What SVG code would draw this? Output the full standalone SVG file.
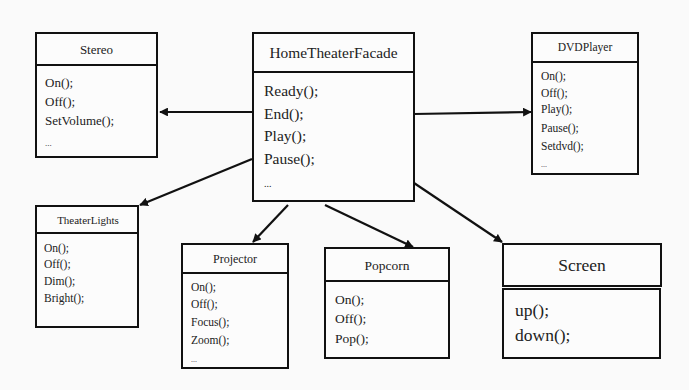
<svg xmlns="http://www.w3.org/2000/svg" width="689" height="390" viewBox="0 0 689 390">
  <style>
    .box { fill: #fcfcfc; stroke: #111; stroke-width: 2; }
    .sep { stroke: #111; stroke-width: 2; }
    .t { font-family: "Liberation Serif", "Times New Roman", serif; fill: #222; }
    .link { stroke: #111; stroke-width: 2.2; fill: none; marker-end: url(#arrow); }
  </style>
  <defs>
    <marker id="arrow" viewBox="0 0 10 10" refX="9" refY="5" markerWidth="4" markerHeight="4" orient="auto" markerUnits="strokeWidth">
      <path d="M0,0 L10,5 L0,10 z" fill="#111"/>
    </marker>
  </defs>
  <rect width="689" height="390" fill="#fafafa"/>

  <g id="connectors">
    <line class="link" x1="253" y1="112" x2="160" y2="112"/>
    <line class="link" x1="414" y1="114" x2="531" y2="112"/>
    <line class="link" x1="252" y1="159" x2="140" y2="205"/>
    <line class="link" x1="288" y1="205" x2="253" y2="242"/>
    <line class="link" x1="325" y1="205" x2="413" y2="247"/>
    <line class="link" x1="414" y1="183" x2="502" y2="242"/>
  </g>

  <g id="stereo">
    <rect class="box" x="36" y="33" width="121" height="124"/>
    <line class="sep" x1="36" y1="65" x2="157" y2="65"/>
    <text class="t" x="96.5" y="53.5" font-size="13" text-anchor="middle">Stereo</text>
    <text class="t" x="45" y="86.5" font-size="13">On();</text>
    <text class="t" x="45" y="106" font-size="13">Off();</text>
    <text class="t" x="45" y="124.5" font-size="13">SetVolume();</text>
    <text class="t" x="45" y="146" font-size="9">...</text>
  </g>

  <g id="facade">
    <rect class="box" x="253" y="33" width="161" height="168"/>
    <line class="sep" x1="253" y1="72" x2="414" y2="72"/>
    <text class="t" x="333.5" y="57.5" font-size="15.4" text-anchor="middle">HomeTheaterFacade</text>
    <text class="t" x="264" y="95.5" font-size="15.5">Ready();</text>
    <text class="t" x="264" y="118.5" font-size="15.5">End();</text>
    <text class="t" x="264" y="141" font-size="15.5">Play();</text>
    <text class="t" x="264" y="163.5" font-size="15.5">Pause();</text>
    <text class="t" x="264" y="187" font-size="10">...</text>
  </g>

  <g id="dvdplayer">
    <rect class="box" x="532" y="33" width="106" height="141"/>
    <line class="sep" x1="532" y1="62" x2="638" y2="62"/>
    <text class="t" x="585" y="51" font-size="11.6" text-anchor="middle">DVDPlayer</text>
    <text class="t" x="541" y="80" font-size="11.5">On();</text>
    <text class="t" x="541" y="97" font-size="11.5">Off();</text>
    <text class="t" x="541" y="113" font-size="11.5">Play();</text>
    <text class="t" x="541" y="132" font-size="11.5">Pause();</text>
    <text class="t" x="541" y="150" font-size="11.5">Setdvd();</text>
    <text class="t" x="541" y="167" font-size="8">...</text>
  </g>

  <g id="theaterlights">
    <rect class="box" x="36" y="206" width="102" height="121"/>
    <line class="sep" x1="36" y1="233" x2="138" y2="233"/>
    <text class="t" x="88" y="224" font-size="11" text-anchor="middle">TheaterLights</text>
    <text class="t" x="44" y="252" font-size="11.5">On();</text>
    <text class="t" x="44" y="268" font-size="11.5">Off();</text>
    <text class="t" x="44" y="285" font-size="11.5">Dim();</text>
    <text class="t" x="44" y="302" font-size="11.5">Bright();</text>
  </g>

  <g id="projector">
    <rect class="box" x="182" y="244" width="106" height="124"/>
    <line class="sep" x1="182" y1="273" x2="288" y2="273"/>
    <text class="t" x="235" y="263" font-size="12" text-anchor="middle">Projector</text>
    <text class="t" x="191" y="291" font-size="11.5">On();</text>
    <text class="t" x="191" y="308" font-size="11.5">Off();</text>
    <text class="t" x="191" y="326" font-size="11.5">Focus();</text>
    <text class="t" x="191" y="344" font-size="11.5">Zoom();</text>
    <text class="t" x="191" y="362" font-size="8">...</text>
  </g>

  <g id="popcorn">
    <rect class="box" x="325" y="248" width="124" height="110"/>
    <line class="sep" x1="325" y1="281" x2="449" y2="281"/>
    <text class="t" x="387" y="270" font-size="13.5" text-anchor="middle">Popcorn</text>
    <text class="t" x="335" y="303.5" font-size="13.5">On();</text>
    <text class="t" x="335" y="322.5" font-size="13.5">Off();</text>
    <text class="t" x="335" y="342.5" font-size="13.5">Pop();</text>
  </g>

  <g id="screen">
    <rect class="box" x="503" y="244" width="158" height="42" stroke-width="2.6"/>
    <rect class="box" x="503" y="289" width="157" height="69" stroke-width="2.6"/>
    <text class="t" x="582" y="271" font-size="17.5" text-anchor="middle">Screen</text>
    <text class="t" x="515" y="316" font-size="17.5">up();</text>
    <text class="t" x="515" y="341" font-size="17.5">down();</text>
  </g>
</svg>
